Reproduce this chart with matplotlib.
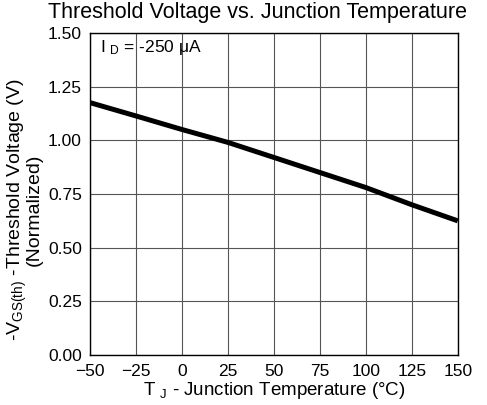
import matplotlib
matplotlib.use("Agg")
import matplotlib.pyplot as plt

# Data
temp_c = [-50, -25, 0, 25, 50, 75, 100, 125, 150]
vth_norm = [1.175, 1.113, 1.05, 0.99, 0.92, 0.85, 0.78, 0.70, 0.625]

x_ticks = [-50, -25, 0, 25, 50, 75, 100, 125, 150]
y_ticks = [0.0, 0.25, 0.5, 0.75, 1.0, 1.25, 1.5]

plt.rcParams["font.family"] = ["Liberation Sans", "DejaVu Sans"]
plt.rcParams["mathtext.fontset"] = "custom"
plt.rcParams["mathtext.rm"] = "Liberation Sans"
plt.rcParams["mathtext.it"] = "Liberation Sans"

fig = plt.figure(figsize=(4.87, 4.05), dpi=100)
ax = fig.add_axes([0.185, 0.123, 0.755, 0.796])

ax.plot(temp_c, vth_norm, color="black", linewidth=3.6, solid_capstyle="butt")

ax.set_xlim(-50, 150)
ax.set_ylim(0, 1.5)
ax.set_xticks(x_ticks)
ax.set_yticks(y_ticks)
ax.set_yticklabels([f"{v:.2f}" for v in y_ticks])
ax.tick_params(length=0, labelsize=12.5, pad=6)
ax.grid(True, color="#555555", linewidth=0.8)
for s in ax.spines.values():
    s.set_linewidth(1.0)

fig.text(0.528, 0.968, "Threshold Voltage vs. Junction Temperature",
         fontsize=15.5, ha="center", va="center")
ax.set_xlabel(r"T $_{\mathregular{J}}$ - Junction Temperature (°C)", fontsize=13.5, labelpad=1)
ax.set_ylabel("-V$_{\\mathregular{GS(th)}}$ -Threshold Voltage (V)\n(Normalized)",
              fontsize=14, linespacing=0.72)
ax.yaxis.set_label_coords(-0.13, 0.45)

ax.text(0.027, 0.953, r"I $_{\mathregular{D}}$ = -250 $\mathregular{\mu}$A",
        transform=ax.transAxes, fontsize=12.5, va="center", ha="left")

fig.savefig("out.png", dpi=100)
